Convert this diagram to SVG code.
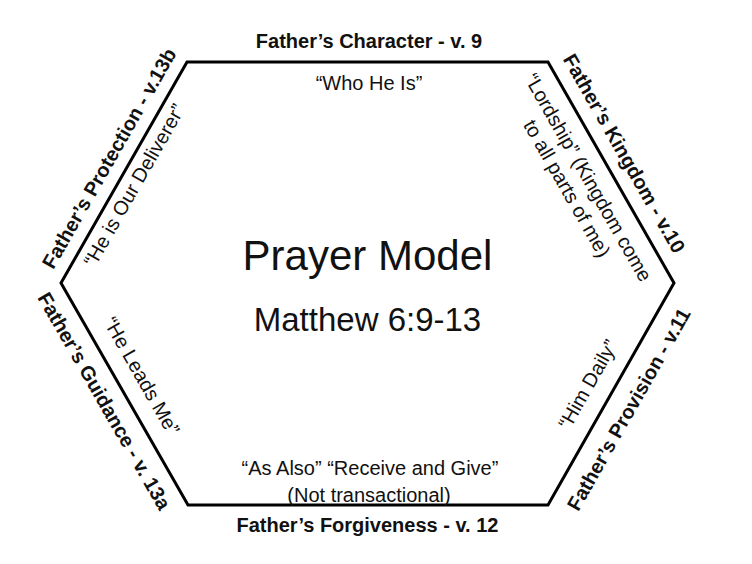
<svg xmlns="http://www.w3.org/2000/svg" width="752" height="564" viewBox="0 0 752 564">
<style>
text{font-family:"Liberation Sans",Arial,sans-serif;fill:#111;text-anchor:middle}
.edge{font-weight:bold;font-size:20px}
.note{font-size:20px}
.title{font-size:42px}
.sub{font-size:33px}
.hex{fill:none;stroke:#000;stroke-width:3;stroke-linejoin:miter}
</style>
<rect width="752" height="564" fill="#fff"/>
<g id="connectors">
<polygon class="hex" points="187,62 548,62 674,283 548,505 188,505 61,283"/>
</g>
<g id="center">
<text class="title" x="367.5" y="270">Prayer Model</text>
<text class="sub" x="367.5" y="331">Matthew 6:9-13</text>
</g>
<g id="character">
<text class="edge" x="369" y="48">Father’s Character - v. 9</text>
<text class="note" x="369" y="90">“Who He Is”</text>
</g>
<g id="kingdom" transform="translate(611,172.5) rotate(60.3)">
<text class="edge" x="-10" y="-14">Father’s Kingdom - v.10</text>
<text class="note" x="-7" y="29">“Lordship” (Kingdom come</text>
<text class="note" x="-8" y="53">to all parts of me)</text>
</g>
<g id="provision" transform="translate(611,394) rotate(-60.4)">
<text class="edge" x="-4.6" y="30">Father’s Provision - v.11</text>
<text class="note" x="-3" y="-18">“Him Daily”</text>
</g>
<g id="forgiveness">
<text class="note" x="370" y="475">“As Also” “Receive and Give”</text>
<text class="note" x="369" y="502">(Not transactional)</text>
<text class="edge" x="367.5" y="532">Father’s Forgiveness - v. 12</text>
</g>
<g id="guidance" transform="translate(124.5,394) rotate(60.2)">
<text class="edge" x="-4" y="28">Father’s Guidance - v. 13a</text>
<text class="note" x="-7" y="-17">“He Leads Me”</text>
</g>
<g id="protection" transform="translate(124,172.5) rotate(-60.3)">
<text class="edge" x="5" y="-13">Father’s Protection - v.13b</text>
<text class="note" x="-6" y="22">“He is Our Deliverer”</text>
</g>
</svg>
